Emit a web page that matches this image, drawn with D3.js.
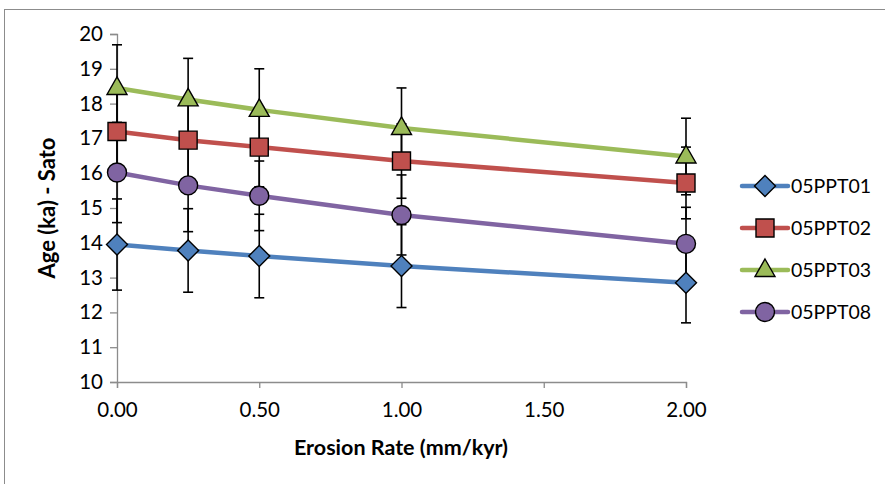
<!DOCTYPE html>
<html>
<head>
<meta charset="utf-8">
<script src="https://cdn.jsdelivr.net/npm/d3@7"></script>
<style>
  body { margin: 0; background: #fff; }
  text { font-family: Lato, "Open Sans", sans-serif; fill: #000; }
</style>
</head>
<body>
<script>
var width = 885, height = 484;

// data
var rates = [0, 0.25, 0.5, 1, 2];
var xTicks = [0, 0.5, 1, 1.5, 2];
var yTicks = [10, 11, 12, 13, 14, 15, 16, 17, 18, 19, 20];
var seriesNames = ["05PPT01", "05PPT02", "05PPT03", "05PPT08"];
var ppt01 = [13.95, 13.78, 13.62, 13.33, 12.85];
var ppt02 = [17.2, 16.95, 16.75, 16.35, 15.72];
var ppt03 = [18.45, 18.12, 17.82, 17.3, 16.48];
var ppt08 = [16.02, 15.65, 15.35, 14.8, 13.97];
var err01 = [1.31, 1.2, 1.2, 1.19, 1.15];
var err02 = [1.25, 1.2, 1.14, 1.07, 1.03];
var err03 = [1.24, 1.18, 1.18, 1.15, 1.1];
var err08 = [1.44, 1.33, 1.0, 1.15, 1.05];

var colors = ["#4F81BD", "#C0504D", "#9BBB59", "#8064A2"];
var shapes = ["diamond", "square", "triangle", "circle"];
var values = [ppt01, ppt02, ppt03, ppt08];
var errs = [err01, err02, err03, err08];

var series = seriesNames.map(function(name, i) {
  return {
    name: name, color: colors[i], shape: shapes[i],
    points: rates.map(function(r, j) { return {x: r, y: values[i][j], e: errs[i][j]}; })
  };
});

var svg = d3.select("body").append("svg")
    .attr("width", width)
    .attr("height", height);

// outer chart frame
svg.append("rect")
    .attr("x", 4.5).attr("y", 9.5)
    .attr("width", 900).attr("height", 500)
    .attr("fill", "none").attr("stroke", "#8c8c8c").attr("stroke-width", 1);

var x = d3.scaleLinear().domain([0, 2]).range([117, 686]);
var y = d3.scaleLinear().domain([10, 20]).range([382, 34]);

// axes
var yAxis = svg.append("g")
    .attr("transform", "translate(117,0)")
    .call(d3.axisLeft(y).tickValues(yTicks).tickSize(7).tickPadding(7).tickFormat(d3.format("d")));
var xAxis = svg.append("g")
    .attr("transform", "translate(0,382)")
    .call(d3.axisBottom(x).tickValues(xTicks).tickSize(6).tickPadding(14).tickFormat(d3.format(".2f")));

[xAxis, yAxis].forEach(function(ax) {
  ax.select(".domain").attr("stroke", "#8c8c8c").attr("stroke-width", 1.3);
  ax.selectAll(".tick line").attr("stroke", "#8c8c8c").attr("stroke-width", 1.3);
  ax.selectAll(".tick text").style("font-size", "20.5px").attr("fill", "#000");
});

// axis titles
svg.append("text")
    .attr("x", 401).attr("y", 455)
    .attr("text-anchor", "middle")
    .style("font-size", "21.5px").style("font-weight", "bold")
    .text("Erosion Rate (mm/kyr)");
svg.append("text")
    .attr("transform", "translate(55,208) rotate(-90)")
    .attr("text-anchor", "middle")
    .style("font-size", "22px").style("font-weight", "bold")
    .text("Age (ka) - Sato");

var line = d3.line().x(function(d) { return x(d.x); }).y(function(d) { return y(d.y); });

// series lines
svg.append("g").selectAll("path")
    .data(series)
    .enter().append("path")
    .attr("d", function(d) { return line(d.points); })
    .attr("fill", "none")
    .attr("stroke", function(d) { return d.color; })
    .attr("stroke-width", 4.5);

// error bars
var eb = svg.append("g").selectAll("g")
    .data(series)
    .enter().append("g")
    .selectAll("g")
    .data(function(d) { return d.points; })
    .enter().append("g")
    .attr("stroke", "#000").attr("stroke-width", 1.6);
eb.append("line")
    .attr("x1", function(d) { return x(d.x); }).attr("x2", function(d) { return x(d.x); })
    .attr("y1", function(d) { return y(d.y - d.e); }).attr("y2", function(d) { return y(d.y + d.e); });
eb.append("line")
    .attr("x1", function(d) { return x(d.x) - 5; }).attr("x2", function(d) { return x(d.x) + 5; })
    .attr("y1", function(d) { return y(d.y + d.e); }).attr("y2", function(d) { return y(d.y + d.e); });
eb.append("line")
    .attr("x1", function(d) { return x(d.x) - 5; }).attr("x2", function(d) { return x(d.x) + 5; })
    .attr("y1", function(d) { return y(d.y - d.e); }).attr("y2", function(d) { return y(d.y - d.e); });

// markers (Excel style shapes)
var shapePath = {
  diamond: "M0,-10.5L10.5,0L0,10.5L-10.5,0Z",
  square: "M-9,-9H9V9H-9Z",
  triangle: "M0,-11L10,6.5H-10Z",
  circle: d3.arc()({innerRadius: 0, outerRadius: 9.5, startAngle: 0, endAngle: 2 * Math.PI})
};

function marker(sel, s) {
  sel.append("path")
      .attr("d", shapePath[s.shape])
      .attr("fill", s.color)
      .attr("stroke", "#000")
      .attr("stroke-width", 1.4);
}

series.forEach(function(s) {
  svg.append("g").selectAll("g")
      .data(s.points)
      .enter().append("g")
      .attr("transform", function(d) { return "translate(" + x(d.x) + "," + y(d.y) + ")"; })
      .each(function() { marker(d3.select(this), s); });
});

// legend
var legend = svg.append("g").selectAll("g")
    .data(series)
    .enter().append("g")
    .attr("transform", function(d, i) { return "translate(742," + (186 + i * 42) + ")"; });
legend.append("line")
    .attr("x1", 0).attr("x2", 46)
    .attr("stroke", function(d) { return d.color; })
    .attr("stroke-width", 4.5).attr("stroke-linecap", "round");
legend.append("g")
    .attr("transform", "translate(23,0)")
    .each(function(d) { marker(d3.select(this), d); });
legend.append("text")
    .attr("x", 49).attr("dy", "0.36em")
    .style("font-size", "19.5px")
    .text(function(d) { return d.name; });
</script>
</body>
</html>
